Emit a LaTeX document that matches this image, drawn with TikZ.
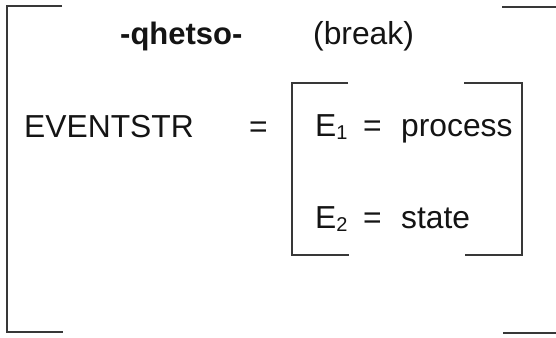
\documentclass[tikz,border=0pt]{standalone}
\usepackage{fontspec}
\setmainfont{Liberation Sans}
\begin{document}
\begin{tikzpicture}[x=1pt,y=-1pt,
  txt/.style={inner sep=0pt, anchor=base west, font=\fontsize{31.8}{32}\selectfont, text=black!92},
  brk/.style={draw=black!78, line width=1.8pt, line cap=butt, line join=miter}]
\useasboundingbox (0,0) rectangle (556,337);
\fill[white] (0,0) rectangle (556,337);
% outer bracket
\draw[brk] (62,6) -- (7,6) -- (7,332) -- (63,332);
\draw[brk] (502,7) -- (556,7);
\draw[brk] (503,333) -- (556,333);
% inner bracket
\draw[brk] (348,83) -- (292,83) -- (292,255) -- (349,255);
\draw[brk] (464,83) -- (522,83) -- (522,255) -- (465,255);
% texts
\node[txt, font=\fontsize{31}{31}\selectfont\bfseries] (qh) at (120,45) {-qhetso-};
\node[txt] (br) at (313,45) {(break)};
\node[txt] (ev) at (24,137) {EVENTSTR};
\node[txt] (eq0) at (249,137) {=};
\node[txt] (e1) at (315,136) {E\raisebox{-3pt}{\fontsize{20}{20}\selectfont 1}};
\node[txt] (eq1) at (363,136) {=};
\node[txt] (p1) at (401,136) {process};
\node[txt] (e2) at (315,228) {E\raisebox{-3pt}{\fontsize{20}{20}\selectfont 2}};
\node[txt] (eq2) at (363,228) {=};
\node[txt] (s2) at (401,228) {state};
\end{tikzpicture}
\end{document}
